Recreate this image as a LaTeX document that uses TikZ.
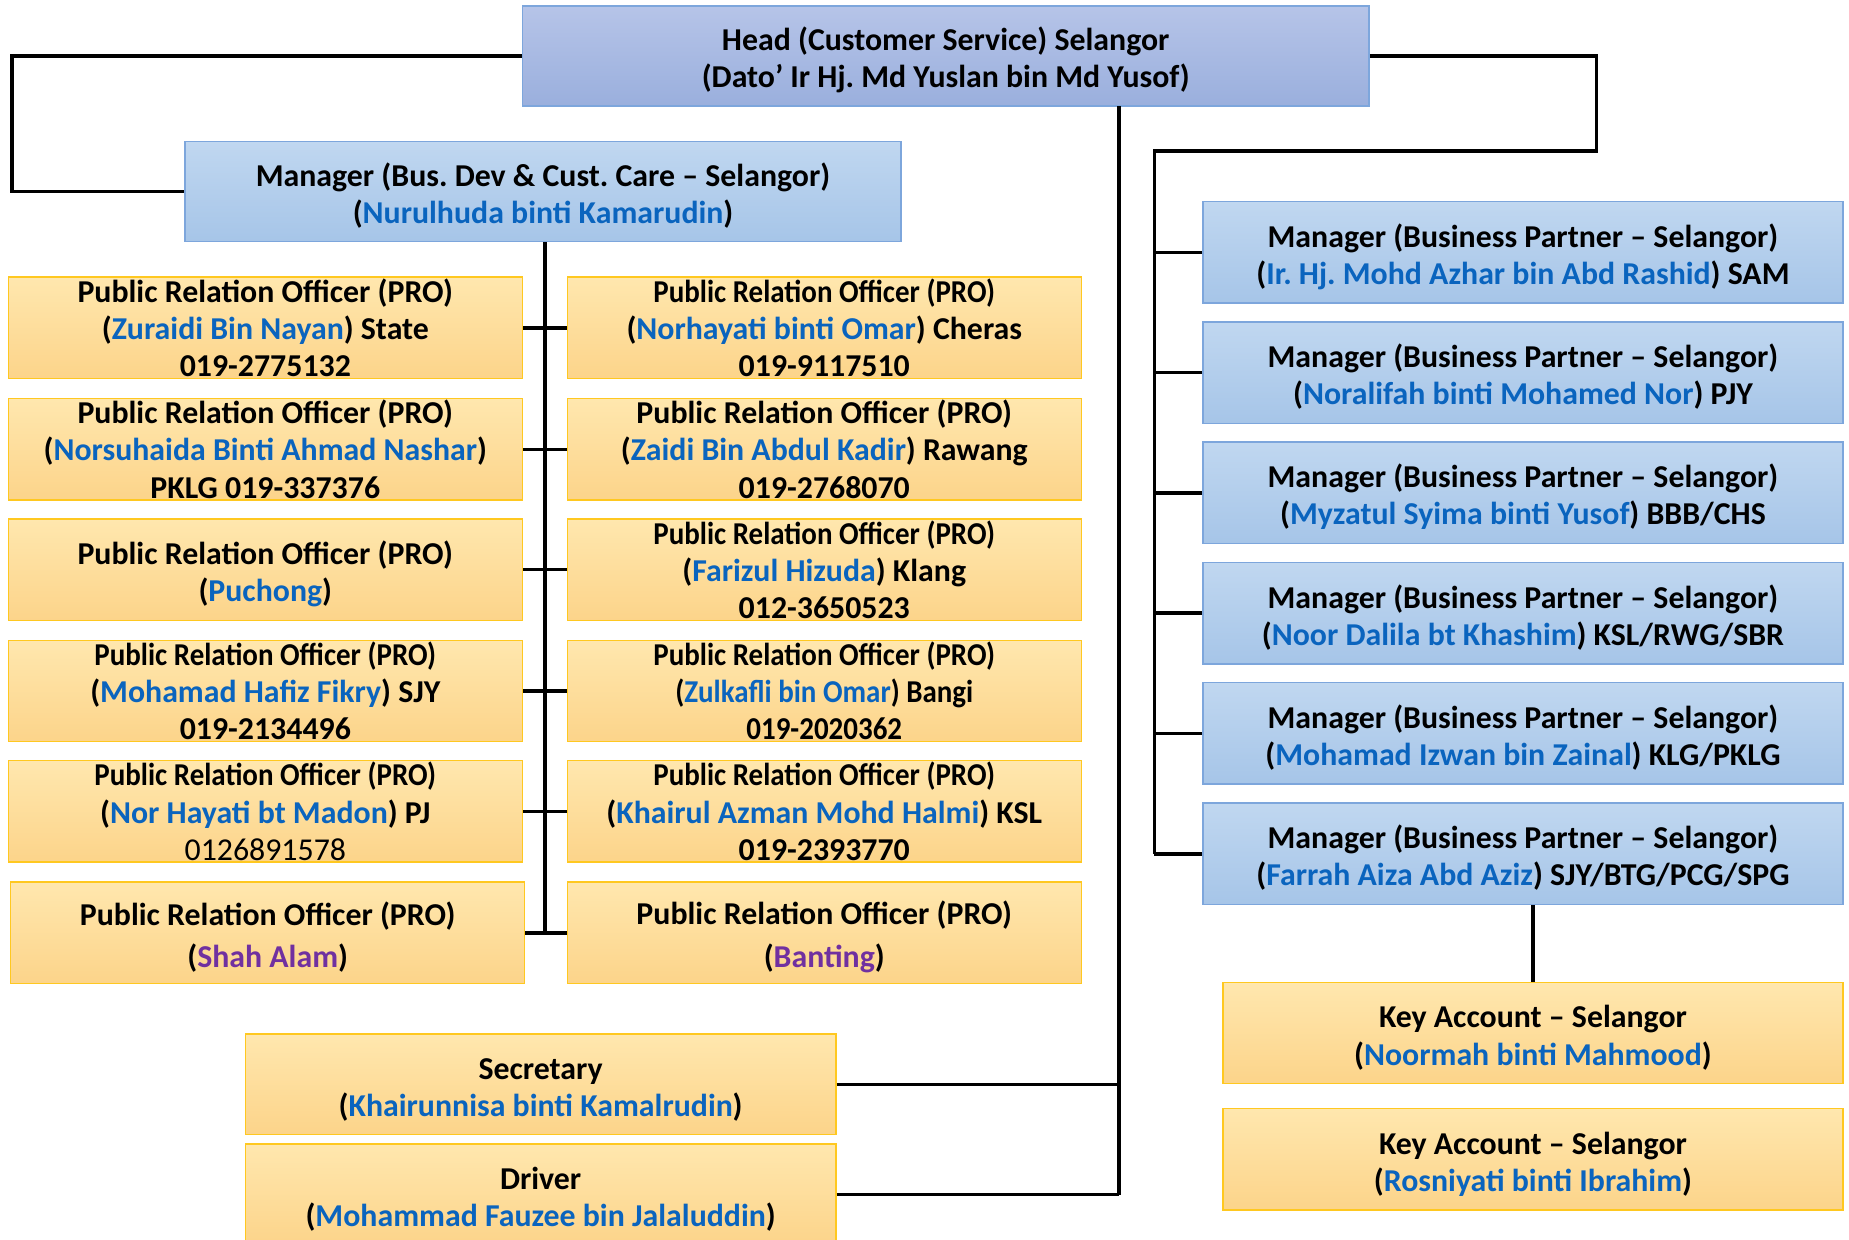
\documentclass[tikz,border=0pt]{standalone}
\usepackage{fontspec}
\setmainfont{Carlito}
\usepackage{graphicx}
\frenchspacing
\definecolor{nmc}{HTML}{0A64BE}
\definecolor{puc}{HTML}{7030A0}
\definecolor{hdtop}{HTML}{B6C4E8}
\definecolor{hdbot}{HTML}{9AAFDD}
\definecolor{bltop}{HTML}{C0D7F0}
\definecolor{blbot}{HTML}{A6C5E8}
\definecolor{bldraw}{HTML}{7DA6DC}
\definecolor{ortop}{HTML}{FFE7AE}
\definecolor{orbot}{HTML}{FCD48A}
\definecolor{ordraw}{HTML}{FFC820}
\newcommand\nmx[1]{\textcolor{nmc}{#1}}
\newcommand\pux[1]{\textcolor{puc}{#1}}
\newcommand\cnd[1]{\scalebox{0.91}[1]{#1}}
\newcommand\tp{\rule{0pt}{27pt}}
\begin{document}
\begin{tikzpicture}[x=1pt,y=-1pt,
  box/.style={rectangle, inner sep=0pt, align=center, line width=1.2pt,
    font=\fontsize{27}{31.5}\selectfont\bfseries\frenchspacing},
  headbox/.style={box, top color=hdtop, bottom color=hdbot, draw=bldraw},
  bluebox/.style={box, top color=bltop, bottom color=blbot, draw=bldraw,
    minimum width=543pt, minimum height=86pt},
  orbox/.style={box, top color=ortop, bottom color=orbot, draw=ordraw,
    minimum width=436pt, minimum height=86pt},
  wire/.style={line width=3pt, black}]
\fill[white] (0,0) rectangle (1568,1051);
\useasboundingbox (0,0) rectangle (1568,1051);

% head and manager
\node[headbox, minimum width=718pt, minimum height=85pt] (head) at (802,47.5)
  {\tp Head (Customer Service) Selangor\\(Dato’ Ir Hj. Md Yuslan bin Md Yusof)};
\node[bluebox, minimum width=607pt, minimum height=85pt] (mgr) at (460.5,162.5)
  {\tp Manager (Bus. Dev \& Cust. Care – Selangor)\\(\nmx{Nurulhuda binti Kamarudin})};

% PRO boxes
\node[orbox] (l1) at (225,278) {Public Relation Officer (PRO)\\(\nmx{Zuraidi Bin Nayan}) State\\019-2775132};
\node[orbox] (r1) at (699,278) {\cnd{Public Relation Officer (PRO)}\\(\nmx{Norhayati binti Omar}) Cheras\\019-9117510};
\node[orbox] (l2) at (225,381) {Public Relation Officer (PRO)\\(\nmx{Norsuhaida Binti Ahmad Nashar})\\PKLG 019-337376};
\node[orbox] (r2) at (699,381) {Public Relation Officer (PRO)\\(\nmx{Zaidi Bin Abdul Kadir}) Rawang\\019-2768070};
\node[orbox] (l3) at (225,483) {\tp Public Relation Officer (PRO)\\(\nmx{Puchong})};
\node[orbox] (r3) at (699,483) {\cnd{Public Relation Officer (PRO)}\\(\nmx{Farizul Hizuda}) Klang\\012-3650523};
\node[orbox] (l4) at (225,586) {\cnd{Public Relation Officer (PRO)}\\(\nmx{Mohamad Hafiz Fikry}) SJY\\019-2134496};
\node[orbox] (r4) at (699,586) {\cnd{Public Relation Officer (PRO)}\\\cnd{(\nmx{Zulkafli bin Omar}) Bangi}\\\cnd{019-2020362}};
\node[orbox] (l5) at (225,688) {\cnd{Public Relation Officer (PRO)}\\(\nmx{Nor Hayati bt Madon}) PJ\\{\mdseries 0126891578}};
\node[orbox] (r5) at (699,688) {\cnd{Public Relation Officer (PRO)}\\(\nmx{Khairul Azman Mohd Halmi}) KSL\\019-2393770};
\node[orbox] (l6) at (227,791) {\tp Public Relation Officer (PRO)\\[4.5pt](\pux{Shah Alam})};
\node[orbox] (r6) at (699,791) {\tp Public Relation Officer (PRO)\\[4.5pt](\pux{Banting})};

% secretary and driver
\node[orbox, minimum width=501pt, minimum height=85pt] (sec) at (458.5,919.5)
  {\tp Secretary\\(\nmx{Khairunnisa binti Kamalrudin})};
\node[orbox, minimum width=501pt, minimum height=86pt] (drv) at (458.5,1013)
  {\tp Driver\\(\nmx{Mohammad Fauzee bin Jalaluddin})};

% business partner managers
\node[bluebox] (bp1) at (1291.5,214) {\tp Manager (Business Partner – Selangor)\\(\nmx{Ir. Hj. Mohd Azhar bin Abd Rashid}) SAM};
\node[bluebox] (bp2) at (1291.5,316) {\tp Manager (Business Partner – Selangor)\\(\nmx{Noralifah binti Mohamed Nor}) PJY};
\node[bluebox] (bp3) at (1291.5,418) {\tp Manager (Business Partner – Selangor)\\(\nmx{Myzatul Syima binti Yusof}) BBB/CHS};
\node[bluebox] (bp4) at (1291.5,520) {\tp Manager (Business Partner – Selangor)\\(\nmx{Noor Dalila bt Khashim}) KSL/RWG/SBR};
\node[bluebox] (bp5) at (1291.5,622) {\tp Manager (Business Partner – Selangor)\\(\nmx{Mohamad Izwan bin Zainal}) KLG/PKLG};
\node[bluebox] (bp6) at (1291.5,724) {\tp Manager (Business Partner – Selangor)\\(\nmx{Farrah Aiza Abd Aziz}) SJY/BTG/PCG/SPG};

% key accounts
\node[orbox, minimum width=526pt] (ka1) at (1300,876) {\tp Key Account – Selangor\\(\nmx{Noormah binti Mahmood})};
\node[orbox, minimum width=526pt] (ka2) at (1300,983) {\tp Key Account – Selangor\\(\nmx{Rosniyati binti Ibrahim})};

% connectors
\coordinate (lb) at (10,0);
\coordinate (rt) at (1354,128);
\coordinate (rb) at (979,128);
\coordinate (re) at (979,724);
\coordinate (hb) at (949,90);
\coordinate (mb) at (462,791);

\draw[wire] (head.west) -| (lb |- head.west) |- (mgr.west);
\draw[wire] (head.east) -| (rt) -- (rb) -- (re);
\foreach \i in {1,...,6}{
  \draw[wire] (bp\i.west) -- (bp\i.west -| rb);
  \draw[wire] (l\i.east) -- (r\i.west);
}
\draw[wire] (hb) -- (hb |- drv.east);
\draw[wire] (sec.east) -- (sec.east -| hb);
\draw[wire] (drv.east) -- (drv.east -| hb);
\draw[wire] (mgr.south -| mb) -- (mb);
\draw[wire] (ka1.north) -- (ka1.north |- bp6.south);
\end{tikzpicture}
\end{document}
